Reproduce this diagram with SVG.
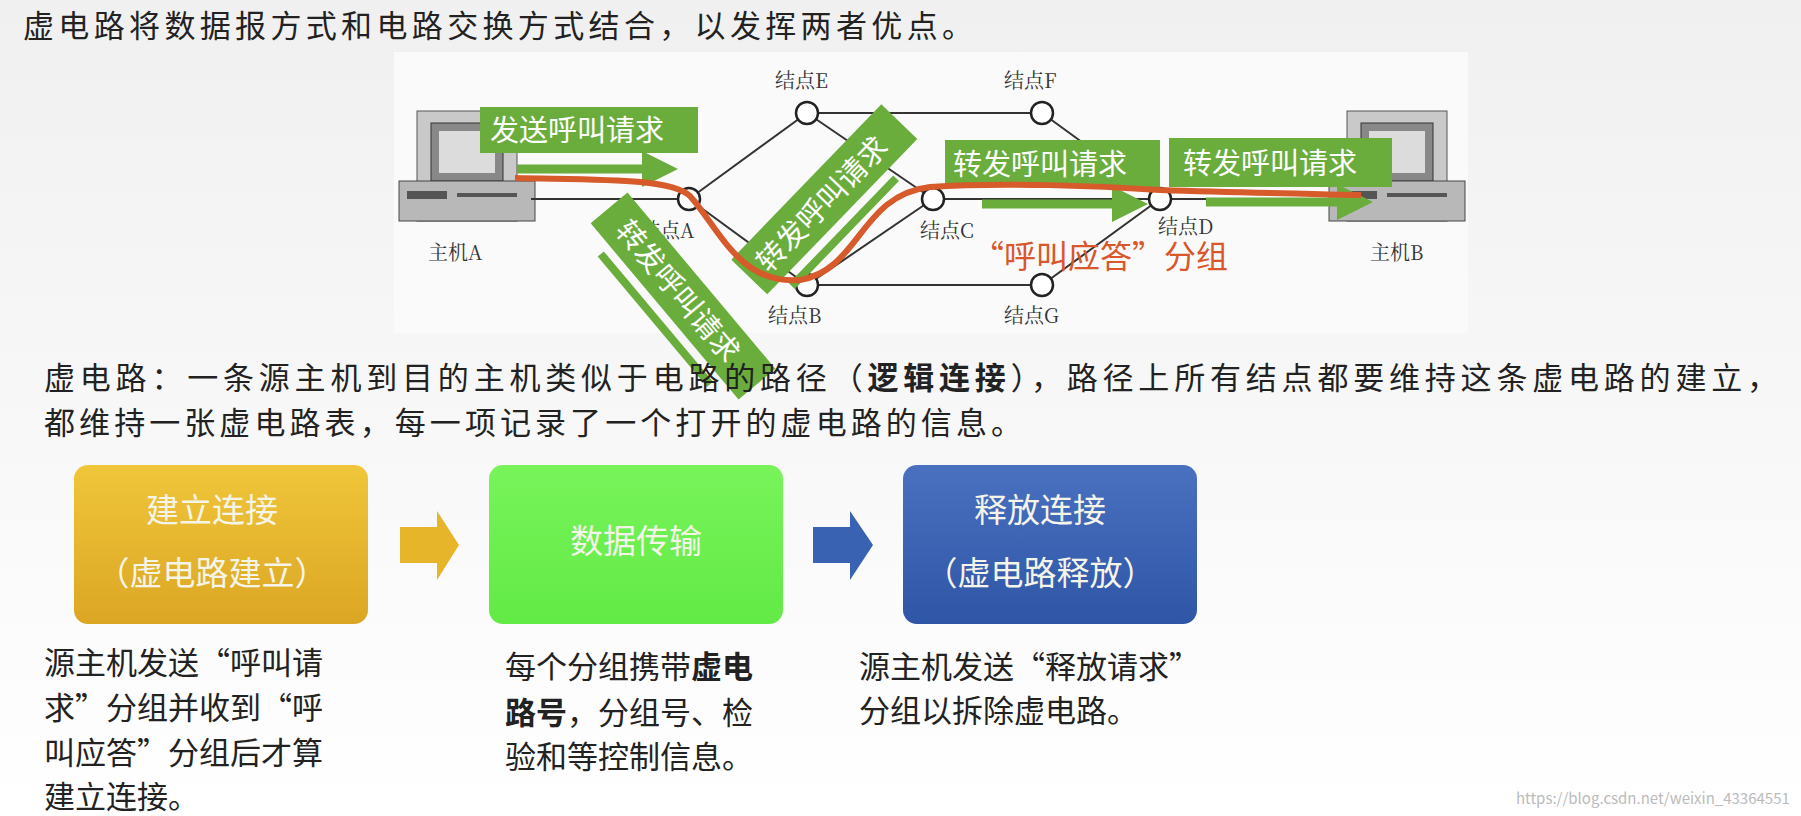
<svg xmlns="http://www.w3.org/2000/svg" width="1801" height="816" viewBox="0 0 1801 816">
<style>
text{font-family:"Noto Sans CJK SC","Liberation Sans",sans-serif;}
.t{font-size:31px;fill:#222;}
.lbl{font-family:"Noto Serif CJK SC","Noto Sans CJK SC",serif;font-size:20px;fill:#333;}
.g{fill:#6aad3d;}
.gt{font-size:29px;fill:#fff;}
.ln{stroke:#333;stroke-width:2;fill:none;}
.nd{fill:#fff;stroke:#222;stroke-width:2.5;}
.bx{font-size:33px;fill:#f4f4e8;text-anchor:middle;}
.d{font-size:31px;fill:#222;}
</style>
<defs>
<linearGradient id="bg" x1="0" y1="0" x2="0" y2="1"><stop offset="0" stop-color="#f0f0f0"/><stop offset="1" stop-color="#ffffff"/></linearGradient>
<linearGradient id="y" x1="0" y1="0" x2="0" y2="1"><stop offset="0" stop-color="#f0c63a"/><stop offset="1" stop-color="#dba624"/></linearGradient>
<linearGradient id="gr" x1="0" y1="0" x2="0" y2="1"><stop offset="0" stop-color="#78f45a"/><stop offset="1" stop-color="#62ea46"/></linearGradient>
<linearGradient id="bl" x1="0" y1="0" x2="0" y2="1"><stop offset="0" stop-color="#4a70c0"/><stop offset="1" stop-color="#2f55a6"/></linearGradient>
<marker id="ga" markerWidth="4" markerHeight="4" refX="2" refY="2" orient="auto"><path d="M0,0L4,2L0,4z" fill="#6aad3d"/></marker>
<g id="pc"><rect x="0" y="0" width="100" height="110" fill="#c9c9c9" stroke="#555"/><rect x="14" y="12" width="72" height="58" fill="#888" stroke="#333"/><rect x="22" y="20" width="56" height="42" fill="#dcdcdc"/><rect x="-18" y="70" width="136" height="40" fill="#b8b8b8" stroke="#444"/><rect x="-10" y="80" width="40" height="8" fill="#555"/><rect x="40" y="82" width="60" height="4" fill="#555"/></g>
</defs>
<rect width="1801" height="816" fill="url(#bg)"/>
<text class="t" x="23" y="37" textLength="950" lengthAdjust="spacing">虚电路将数据报方式和电路交换方式结合，以发挥两者优点。</text>
<rect x="394" y="52" width="1074" height="281" fill="#fafafa"/>
<g id="hostA"><use href="#pc" x="417" y="111"/><text class="lbl" x="428" y="260">主机A</text></g>
<g id="hostB"><use href="#pc" x="1347" y="111"/><text class="lbl" x="1370" y="260">主机B</text></g>
<g id="connectors">
<path class="ln" d="M531,199H689M689,199L807,113M689,199L807,285M807,113H1042M1042,113L1160,199M807,113L933,199M807,285L933,199M807,285H1042M1042,285L1160,199M933,199H1160M1160,199H1330"/>
</g>
<g id="nodeA"><circle class="nd" cx="689" cy="199" r="11"/><text class="lbl" x="640" y="238">结点A</text></g>
<g id="nodeB"><circle class="nd" cx="807" cy="285" r="11"/><text class="lbl" x="768" y="323">结点B</text></g>
<g id="nodeC"><circle class="nd" cx="933" cy="199" r="11"/><text class="lbl" x="920" y="238">结点C</text></g>
<g id="nodeD"><circle class="nd" cx="1160" cy="199" r="11"/><text class="lbl" x="1158" y="234">结点D</text></g>
<g id="nodeE"><circle class="nd" cx="807" cy="113" r="11"/><text class="lbl" x="775" y="88">结点E</text></g>
<g id="nodeF"><circle class="nd" cx="1042" cy="113" r="11"/><text class="lbl" x="1004" y="88">结点F</text></g>
<g id="nodeG"><circle class="nd" cx="1042" cy="285" r="11"/><text class="lbl" x="1004" y="323">结点G</text></g>
<g id="green">
<rect class="g" x="480" y="107" width="218" height="46"/><text class="gt" x="490" y="141">发送呼叫请求</text>
<line x1="517" y1="169" x2="660" y2="169" stroke="#6aad3d" stroke-width="9" marker-end="url(#ga)"/>
<g transform="translate(683,296) rotate(50)"><rect class="g" x="-115" y="-24" width="230" height="48"/><text class="gt" x="-94" y="11">转发呼叫请求</text><rect class="g" x="-85" y="32" width="170" height="8"/></g>
<g transform="translate(825,200) rotate(-46)"><rect class="g" x="-108" y="-26" width="216" height="50"/><text class="gt" x="-92" y="11">转发呼叫请求</text><rect class="g" x="-85" y="32" width="150" height="8"/></g>
<rect class="g" x="945" y="140" width="215" height="47"/><text class="gt" x="953" y="175">转发呼叫请求</text>
<line x1="982" y1="204" x2="1130" y2="204" stroke="#6aad3d" stroke-width="9" marker-end="url(#ga)"/>
<rect class="g" x="1169" y="138" width="223" height="49"/><text class="gt" x="1183" y="174">转发呼叫请求</text>
<line x1="1206" y1="202" x2="1355" y2="202" stroke="#6aad3d" stroke-width="9" marker-end="url(#ga)"/>
</g>
<path d="M515,178C600,180 670,178 690,196C720,230 740,285 800,280C860,270 860,195 930,187C1000,182 1100,186 1160,190C1250,193 1320,194 1361,195" fill="none" stroke="#d65a2a" stroke-width="6"/>
<text x="972" y="268" font-size="32" fill="#d9572a">“呼叫应答”分组</text>
<text class="t" x="44" y="389" textLength="1734" lengthAdjust="spacing">虚电路：一条源主机到目的主机类似于电路的路径（<tspan font-weight="bold">逻辑连接</tspan>），路径上所有结点都要维持这条虚电路的建立，</text>
<text class="t" x="44" y="434" textLength="978" lengthAdjust="spacing">都维持一张虚电路表，每一项记录了一个打开的虚电路的信息。</text>
<g id="box1"><rect x="74" y="465" width="294" height="159" rx="14" fill="url(#y)"/><text class="bx" x="212" y="522">建立连接</text><text class="bx" x="212" y="585">（虚电路建立）</text></g>
<g id="box2"><rect x="489" y="465" width="294" height="159" rx="14" fill="url(#gr)"/><text class="bx" x="636" y="553">数据传输</text></g>
<g id="box3"><rect x="903" y="465" width="294" height="159" rx="14" fill="url(#bl)"/><text class="bx" x="1040" y="522">释放连接</text><text class="bx" x="1040" y="585">（虚电路释放）</text></g>
<g id="arrows">
<path d="M400,527H437V511L459,545L437,580V563H400Z" fill="#e6b52a"/>
<path d="M813,527H850V511L873,545L850,580V563H813Z" fill="#3a62b2"/>
</g>
<g class="d">
<text class="d" x="44" y="674">源主机发送“呼叫请</text>
<text class="d" x="44" y="719">求”分组并收到“呼</text>
<text class="d" x="44" y="764">叫应答”分组后才算</text>
<text class="d" x="44" y="808">建立连接。</text>
<text class="d" x="505" y="678">每个分组携带<tspan font-weight="bold">虚电</tspan></text>
<text class="d" x="505" y="724"><tspan font-weight="bold">路号</tspan>，分组号、检</text>
<text class="d" x="505" y="768">验和等控制信息。</text>
<text class="d" x="859" y="678">源主机发送“释放请求”</text>
<text class="d" x="859" y="722">分组以拆除虚电路。</text>
</g>
<text x="1516" y="804" font-size="15" fill="#bbb" font-family="Liberation Sans,sans-serif">https://blog.csdn.net/weixin_43364551</text>
</svg>
